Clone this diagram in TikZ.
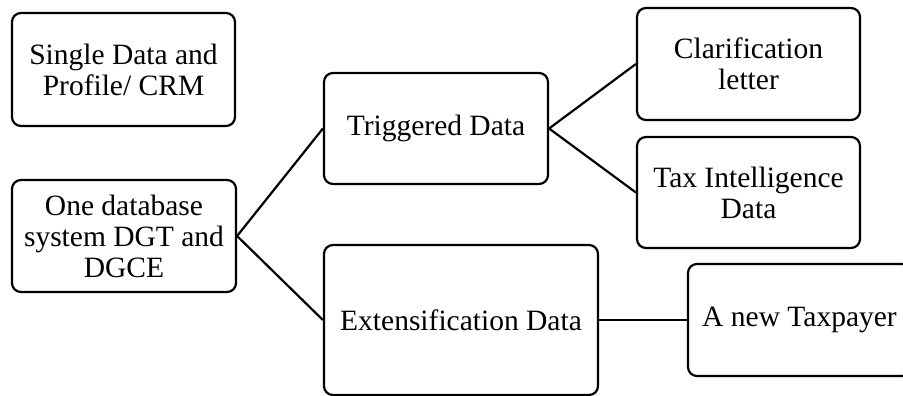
\documentclass[tikz,border=0pt]{standalone}
\usepackage{fontspec}
\setmainfont{Liberation Serif}
\begin{document}
\begin{tikzpicture}[x=1pt,y=-1pt,
  box/.style={draw, line width=2.2pt, rounded corners=9pt, align=center,
    font=\fontsize{29.5}{31}\selectfont, inner sep=2pt},
  link/.style={line width=2.2pt}]
\useasboundingbox (0,0) rectangle (903,396);
\clip (0,0) rectangle (903,396);
\node [box, minimum width=223pt, minimum height=113pt] (single) at (123.5,69.5) {Single Data and\\Profile/ CRM};
\node [box, minimum width=224pt, minimum height=112pt] (onedb) at (124,236) {One database\\system DGT and\\DGCE};
\node [box, minimum width=224pt, minimum height=111pt] (trig) at (436,128.5) {Triggered Data};
\node [box, minimum width=274pt, minimum height=150pt] (ext) at (461,320) {Extensification Data};
\node [box, minimum width=223pt, minimum height=112pt] (clar) at (748.5,64) {Clarification\\letter};
\node [box, minimum width=223pt, minimum height=111pt] (taxint) at (748.5,192.5) {Tax Intelligence\\Data};
\node [box, minimum width=223pt, minimum height=112pt] (newtp) at (799.5,320) {A new Taxpayer};
\draw [link] (trig.west) -- (onedb.east) -- (ext.west);
\draw [link] (clar.west) -- (trig.east) -- (taxint.west);
\draw [link] (ext.east) -- (newtp.west);
\end{tikzpicture}
\end{document}
